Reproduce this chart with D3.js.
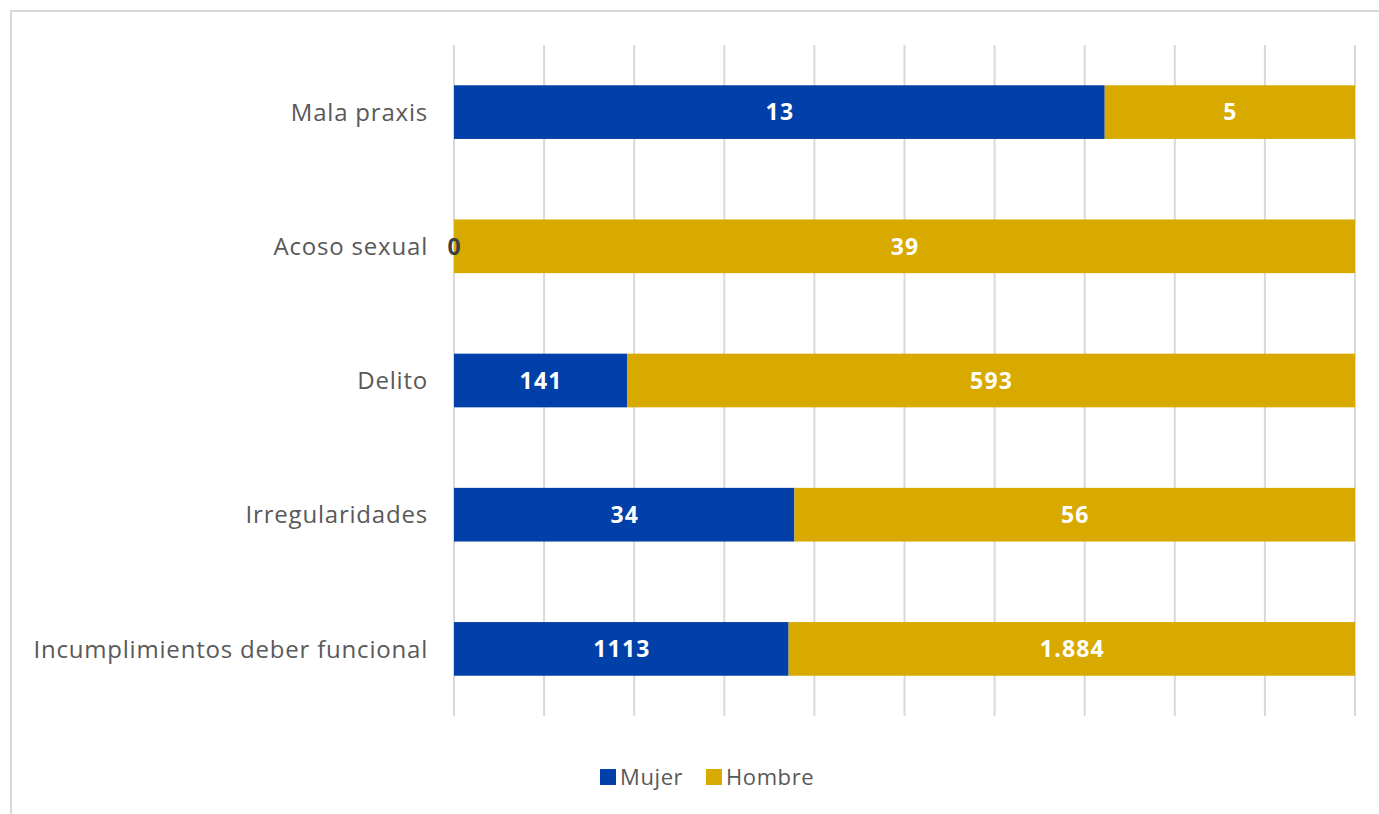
<!DOCTYPE html>
<html>
<head>
<meta charset="utf-8">
<script src="https://cdn.jsdelivr.net/npm/d3@7"></script>
<style>
  html, body { margin: 0; padding: 0; background: #ffffff; }
  svg { display: block; }
</style>
</head>
<body>
<svg id="chart" width="1379" height="814"></svg>
<script>
// Categories, top to bottom
const categories = [
  "Mala praxis",
  "Acoso sexual",
  "Delito",
  "Irregularidades",
  "Incumplimientos deber funcional"
];
const seriesNames = ["Mujer", "Hombre"];
const mujer = [13, 0, 141, 34, 1113];
const hombre = [5, 39, 593, 56, 1884];
const colors = ["#0040A8", "#D8AA00"];
const gridTicks = [0, 0.1, 0.2, 0.3, 0.4, 0.5, 0.6, 0.7, 0.8, 0.9, 1];

const svg = d3.select("#chart");
const W = 1379, H = 814;
const margin = { left: 454, right: 24, top: 45, bottom: 98 };
const font = "'Open Sans', sans-serif";

// chart frame
svg.append("rect")
  .attr("x", 11).attr("y", 11)
  .attr("width", W + 10).attr("height", H + 10)
  .attr("fill", "#ffffff")
  .attr("stroke", "#d9d9d9").attr("stroke-width", 2);

const x = d3.scaleLinear().domain([0, 1]).range([margin.left, 1355]);
const y = d3.scaleBand().domain(categories)
  .range([margin.top, H - margin.bottom]).paddingInner(0.6).paddingOuter(0.3);

// vertical gridlines
svg.append("g").selectAll("line").data(gridTicks).join("line")
  .attr("x1", d => x(d)).attr("x2", d => x(d))
  .attr("y1", margin.top).attr("y2", H - margin.bottom)
  .attr("stroke", "#d9d9d9").attr("stroke-width", 2);

// 100% stacked rows
const rows = categories.map((c, i) => ({ cat: c, Mujer: mujer[i], Hombre: hombre[i] }));
const stack = d3.stack().keys(seriesNames).offset(d3.stackOffsetExpand);
const layers = stack(rows);

const esFmt = d3.formatLocale({ decimal: ",", thousands: ".", grouping: [3], currency: ["", "€"] }).format(",d");
const formats = [d3.format("d"), esFmt];

// bars first, then all value labels on top
layers.forEach((layer, li) => {
  svg.append("g").selectAll("rect").data(layer).join("rect")
    .attr("x", d => x(d[0]))
    .attr("y", d => y(d.data.cat))
    .attr("width", d => x(d[1]) - x(d[0]))
    .attr("height", y.bandwidth())
    .attr("fill", colors[li]);
});
layers.forEach((layer, li) => {
  svg.append("g").selectAll("text").data(layer).join("text")
    .attr("x", d => (x(d[0]) + x(d[1])) / 2 + 0.6)
    .attr("y", d => y(d.data.cat) + y.bandwidth() / 2)
    .attr("dy", "0.36em")
    .attr("text-anchor", "middle")
    .attr("font-family", font)
    .attr("font-weight", "bold")
    .attr("font-size", 23)
    .attr("letter-spacing", 1.2)
    .attr("fill", d => (d[1] - d[0]) === 0 ? "#404040" : "#ffffff")
    .text(d => formats[li](d.data[seriesNames[li]]));
});

// category labels
svg.append("g").selectAll("text").data(categories).join("text")
  .attr("x", margin.left - 26)
  .attr("y", d => y(d) + y.bandwidth() / 2)
  .attr("dy", "0.36em")
  .attr("text-anchor", "end")
  .attr("font-family", font)
  .attr("font-size", 24)
  .attr("letter-spacing", 0.8)
  .attr("fill", "#595959")
  .text(d => d);

// legend
const legend = svg.append("g").attr("transform", "translate(600,777)");
const legendX = [0, 106];
seriesNames.forEach((s, i) => {
  legend.append("rect")
    .attr("x", legendX[i]).attr("y", -8)
    .attr("width", 16).attr("height", 16)
    .attr("fill", colors[i]);
  legend.append("text")
    .attr("x", legendX[i] + 20).attr("y", 0)
    .attr("dy", "0.36em")
    .attr("font-family", font)
    .attr("font-size", 22)
    .attr("letter-spacing", 0.6)
    .attr("fill", "#595959")
    .text(s);
});
</script>
</body>
</html>
